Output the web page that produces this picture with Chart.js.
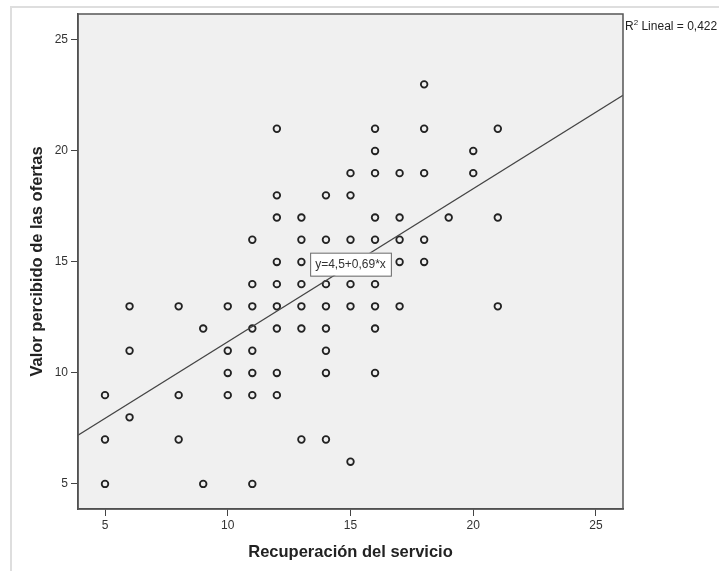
<!DOCTYPE html>
<html>

<head>
    <title>dispersión</title>
    <script src="https://cdn.jsdelivr.net/npm/chart.js"></script>
    <style>
        body { margin: 0; background: #fff; }
        canvas { display: block; }
    </style>
</head>

<body>
    <canvas id="myChart" width="719" height="571"></canvas>
    <script>
        // puntos: cada x con sus valores de y
        const recuperacion = [5, 6, 8, 9, 10, 11, 12, 13, 14, 15, 16, 17, 18, 19, 20, 21];
        const valorPorX = [
            [9, 7, 5],
            [13, 11, 8],
            [13, 9, 7],
            [12, 5],
            [13, 11, 10, 9],
            [16, 14, 13, 12, 11, 10, 9, 5],
            [21, 18, 17, 15, 14, 13, 12, 10, 9],
            [17, 16, 15, 14, 13, 12, 7],
            [18, 16, 14, 13, 12, 11, 10, 7],
            [19, 18, 16, 14, 13, 6],
            [21, 20, 19, 17, 16, 14, 13, 12, 10],
            [19, 17, 16, 15, 13],
            [23, 21, 19, 16, 15],
            [17],
            [20, 19],
            [21, 17, 13]
        ];
        const xTicks = [5, 10, 15, 20, 25];
        const yTicks = [5, 10, 15, 20, 25];
        const intercepto = 4.5;
        const pendiente = 0.69;
        const r2 = '0,422';
        const ecuacion = 'y=4,5+0,69*x';

        const xMin = 3.9, xMax = 26.1;
        const yMin = 3.87, yMax = 26.17;

        const puntos = [];
        recuperacion.forEach((x, i) => {
            valorPorX[i].forEach(y => puntos.push({ x: x, y: y }));
        });
        const recta = [
            { x: xMin, y: intercepto + pendiente * xMin },
            { x: xMax, y: intercepto + pendiente * xMax }
        ];

        const fuente = "'Liberation Sans', Arial, sans-serif";

        // fondo gris del área, marco y textos extra
        const decoracion = {
            id: 'decoracion',
            beforeDraw(chart) {
                const ctx = chart.ctx;
                const a = chart.chartArea;
                ctx.save();
                ctx.strokeStyle = '#dedede';
                ctx.lineWidth = 2;
                ctx.strokeRect(11, 7, 900, 900);
                ctx.fillStyle = '#f0f0f0';
                ctx.fillRect(a.left, a.top, a.right - a.left, a.bottom - a.top);
                ctx.restore();
            },
            afterDraw(chart) {
                const ctx = chart.ctx;
                const a = chart.chartArea;
                const sx = chart.scales.x, sy = chart.scales.y;
                ctx.save();
                ctx.strokeStyle = '#555';
                ctx.lineWidth = 1.5;
                ctx.strokeRect(a.left, a.top, a.right - a.left, a.bottom - a.top);

                // etiqueta de la ecuación
                const cx = sx.getPixelForValue(15);
                const cy = sy.getPixelForValue(14.9);
                ctx.font = '12px ' + fuente;
                const w = ctx.measureText(ecuacion).width + 10;
                const h = 23;
                ctx.fillStyle = '#fff';
                ctx.fillRect(cx - w / 2, cy - h / 2, w, h);
                ctx.strokeStyle = '#666';
                ctx.lineWidth = 1;
                ctx.strokeRect(cx - w / 2 + 0.5, cy - h / 2 + 0.5, w, h);
                ctx.fillStyle = '#333';
                ctx.textAlign = 'center';
                ctx.textBaseline = 'middle';
                ctx.fillText(ecuacion, cx, cy + 1);

                // R2 lineal
                ctx.textAlign = 'left';
                ctx.textBaseline = 'alphabetic';
                let px = a.right + 2;
                ctx.fillStyle = '#222';
                ctx.fillText('R', px, 30);
                px += ctx.measureText('R').width;
                ctx.font = '8px ' + fuente;
                ctx.fillText('2', px, 25);
                px += ctx.measureText('2').width;
                ctx.font = '12px ' + fuente;
                ctx.fillText(' Lineal = ' + r2, px, 30);
                ctx.restore();
            }
        };

        const ctx1 = document.getElementById('myChart').getContext('2d');
        new Chart(ctx1, {
            type: 'scatter',
            data: {
                datasets: [{
                    label: 'Recta',
                    type: 'line',
                    data: recta,
                    borderColor: '#444',
                    borderWidth: 1.2,
                    pointRadius: 0,
                    fill: false
                }, {
                    label: 'Valor percibido',
                    data: puntos,
                    pointStyle: 'circle',
                    pointRadius: 3.3,
                    borderWidth: 1.8,
                    borderColor: '#222',
                    backgroundColor: 'rgba(0,0,0,0)'
                }]
            },
            options: {
                responsive: false,
                animation: false,
                layout: { padding: { left: 0, top: 14, right: 96, bottom: 0 } },
                plugins: {
                    legend: { display: false },
                    tooltip: { enabled: false }
                },
                scales: {
                    x: {
                        type: 'linear',
                        min: xMin,
                        max: xMax,
                        afterBuildTicks: s => { s.ticks = xTicks.map(v => ({ value: v })); },
                        afterFit: s => { s.height = 62; },
                        grid: { drawOnChartArea: false, drawTicks: true, tickLength: 7, color: '#444' },
                        border: { display: true, color: '#444', width: 1.5 },
                        ticks: { color: '#333', padding: 2, font: { family: fuente, size: 12 }, maxRotation: 0 },
                        title: {
                            display: true,
                            text: 'Recuperación del servicio',
                            color: '#222',
                            font: { family: fuente, size: 16.5, weight: 'bold' },
                            padding: { top: 0, bottom: 9 }
                        }
                    },
                    y: {
                        type: 'linear',
                        min: yMin,
                        max: yMax,
                        afterBuildTicks: s => { s.ticks = yTicks.map(v => ({ value: v })); },
                        afterFit: s => { s.width = 78; },
                        grid: { drawOnChartArea: false, drawTicks: true, tickLength: 7, color: '#444' },
                        border: { display: true, color: '#444', width: 1.5 },
                        ticks: { color: '#333', padding: 3, font: { family: fuente, size: 12 } },
                        title: {
                            display: true,
                            text: 'Valor percibido de las ofertas',
                            color: '#222',
                            font: { family: fuente, size: 16.5, weight: 'bold' },
                            padding: { top: 28, bottom: 0 }
                        }
                    }
                }
            },
            plugins: [decoracion]
        });
    </script>
</body>

</html>
